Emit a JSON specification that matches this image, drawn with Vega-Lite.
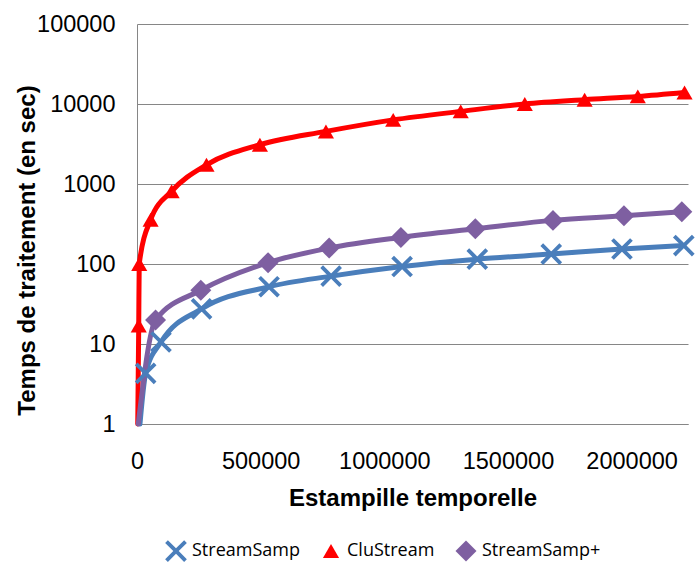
{
  "$schema": "https://vega.github.io/schema/vega-lite/v6.json",
  "width": 551,
  "height": 400,
  "autosize": "none",
  "padding": {"left": 137, "top": 24, "right": 7, "bottom": 141},
  "background": "white",
  "config": {
    "view": {"stroke": null},
    "axis": {"labelFont": "Liberation Sans", "titleFont": "Liberation Sans", "labelColor": "#000000", "titleColor": "#000000"}
  },
  "data": {
    "values": [
      {"series": "StreamSamp", "t": 12000, "time": 1},
      {"series": "StreamSamp", "t": 35000, "time": 4.3},
      {"series": "StreamSamp", "t": 97000, "time": 10.6},
      {"series": "StreamSamp", "t": 261000, "time": 27.5},
      {"series": "StreamSamp", "t": 534000, "time": 52},
      {"series": "StreamSamp", "t": 785000, "time": 70.5},
      {"series": "StreamSamp", "t": 1072000, "time": 93},
      {"series": "StreamSamp", "t": 1376000, "time": 115},
      {"series": "StreamSamp", "t": 1675000, "time": 133},
      {"series": "StreamSamp", "t": 1961000, "time": 154},
      {"series": "StreamSamp", "t": 2211000, "time": 170},
      {"series": "CluStream", "t": 3000, "time": 1},
      {"series": "CluStream", "t": 7000, "time": 17},
      {"series": "CluStream", "t": 9000, "time": 100},
      {"series": "CluStream", "t": 55000, "time": 358},
      {"series": "CluStream", "t": 140000, "time": 812},
      {"series": "CluStream", "t": 281000, "time": 1736},
      {"series": "CluStream", "t": 497000, "time": 3100},
      {"series": "CluStream", "t": 764000, "time": 4545},
      {"series": "CluStream", "t": 1036000, "time": 6330},
      {"series": "CluStream", "t": 1309000, "time": 8090},
      {"series": "CluStream", "t": 1568000, "time": 10000},
      {"series": "CluStream", "t": 1810000, "time": 11320},
      {"series": "CluStream", "t": 2025000, "time": 12450},
      {"series": "CluStream", "t": 2214000, "time": 13960},
      {"series": "StreamSamp+", "t": 5000, "time": 1},
      {"series": "StreamSamp+", "t": 75000, "time": 20},
      {"series": "StreamSamp+", "t": 258000, "time": 47},
      {"series": "StreamSamp+", "t": 530000, "time": 104},
      {"series": "StreamSamp+", "t": 777000, "time": 158},
      {"series": "StreamSamp+", "t": 1067000, "time": 215},
      {"series": "StreamSamp+", "t": 1368000, "time": 275},
      {"series": "StreamSamp+", "t": 1682000, "time": 351},
      {"series": "StreamSamp+", "t": 1969000, "time": 400},
      {"series": "StreamSamp+", "t": 2203000, "time": 451}
    ]
  },
  "layer": [
    {
      "mark": {"type": "line", "interpolate": "monotone", "strokeWidth": 5, "strokeCap": "round", "strokeJoin": "round"},
      "encoding": {
        "x": {
          "field": "t", "type": "quantitative",
          "scale": {"domain": [0, 2228000], "nice": false, "zero": false},
          "axis": {
            "title": "Estampille temporelle",
            "titleFontSize": 24, "titleFontWeight": "bold",
            "titleX": 275.5, "titleY": 81, "titleBaseline": "alphabetic", "titleAlign": "center",
            "values": [0, 500000, 1000000, 1500000, 2000000],
            "format": "d",
            "labelFontSize": 23.5, "labelBaseline": "alphabetic", "labelPadding": 44,
            "ticks": false, "tickSize": 0, "grid": false,
            "domain": true, "domainColor": "#868686", "domainWidth": 1,
            "labelFlush": false, "labelOverlap": false
          }
        },
        "y": {
          "field": "time", "type": "quantitative",
          "scale": {"type": "log", "domain": [1, 100000], "nice": false},
          "axis": {
            "title": "Temps de traitement (en sec)",
            "titleFontSize": 24, "titleFontWeight": "bold",
            "titleX": -110, "titleY": 226, "titleAngle": -90, "titleAlign": "center", "titleBaseline": "middle",
            "values": [1, 10, 100, 1000, 10000, 100000],
            "format": "d",
            "labelFontSize": 23.5, "labelPadding": 22, "labelBaseline": "middle",
            "ticks": false, "tickSize": 0,
            "grid": true, "gridColor": "#868686", "gridWidth": 1,
            "domain": true, "domainColor": "#868686", "domainWidth": 1,
            "labelFlush": false, "labelOverlap": false
          }
        },
        "color": {
          "field": "series", "type": "nominal",
          "scale": {"domain": ["StreamSamp", "CluStream", "StreamSamp+"], "range": ["#4a7ebb", "#ff0000", "#7e5fa1"]}
        }
      }
    },
    {
      "transform": [{"filter": "datum.time > 1"}],
      "mark": {"type": "point", "filled": true, "opacity": 1, "strokeWidth": 0},
      "encoding": {
        "x": {"field": "t", "type": "quantitative"},
        "y": {"field": "time", "type": "quantitative"},
        "color": {
          "field": "series", "type": "nominal",
          "scale": {"domain": ["StreamSamp", "CluStream", "StreamSamp+"], "range": ["#4a7ebb", "#ff0000", "#7e5fa1"]},
          "legend": {
            "title": null, "orient": "none", "legendX": 28, "legendY": 516,
            "direction": "horizontal", "columns": 3,
            "labelFont": "Open Sans", "labelFontSize": 18, "labelColor": "#000000",
            "symbolStrokeWidth": 0, "labelOffset": 5, "columnPadding": 20
          }
        },
        "shape": {
          "field": "series", "type": "nominal",
          "scale": {
            "domain": ["StreamSamp", "CluStream", "StreamSamp+"],
            "range": ["M-1,-0.75L-0.75,-1L0,-0.25L0.75,-1L1,-0.75L0.25,0L1,0.75L0.75,1L0,0.25L-0.75,1L-1,0.75L-0.25,0Z", "triangle-up", "M-1,0L0,-1L1,0L0,1Z"]
          }
        },
        "size": {
          "field": "series", "type": "nominal",
          "scale": {"type": "ordinal", "domain": ["StreamSamp", "CluStream", "StreamSamp+"], "range": [470, 260, 440]}
        }
      }
    }
  ]
}
